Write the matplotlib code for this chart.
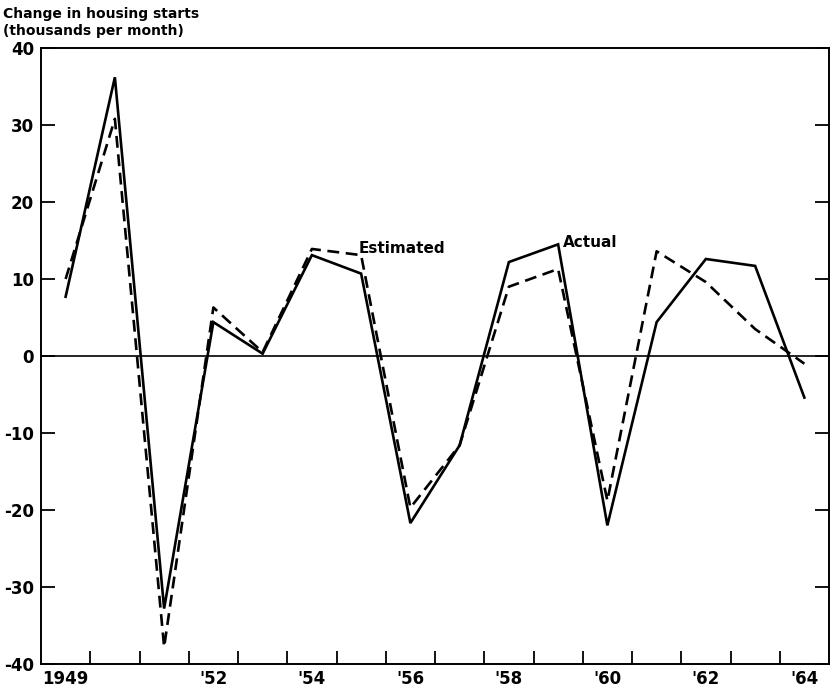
import numpy as np
import matplotlib
matplotlib.use("Agg")
from matplotlib import pyplot as plt
from matplotlib.ticker import FixedLocator

years = np.arange(1949, 1965)
actual = [7.7, 36.2, -32.8, 4.4, 0.3, 13.1, 10.7, -21.7, -11.6, 12.2, 14.5, -22.0, 4.4, 12.6, 11.7, -5.4]
estimated = [10.0, 30.8, -37.8, 6.3, 0.5, 13.9, 13.1, -19.7, -11.6, 9.0, 11.3, -18.8, 13.6, 9.6, 3.5, -1.0]

label_years = [1949, 1952, 1954, 1956, 1958, 1960, 1962, 1964]
label_text = ["1949", "'52", "'54", "'56", "'58", "'60", "'62", "'64"]
yticks = np.arange(-40, 41, 10)

plt.rcParams["font.family"] = ["DejaVu Sans"]

fig = plt.figure(figsize=(8.33, 6.88), dpi=100)
ax = fig.add_axes([41 / 833, 1 - 664 / 688, (829 - 41) / 833, (664 - 48) / 688])

ax.plot(years, actual, "k-", lw=1.9, solid_joinstyle="miter")
ax.plot(years, estimated, "k--", lw=1.9, dashes=(4.5, 2.5))
ax.axhline(0, color="k", lw=1.2)

ax.set_xlim(1948.5, 1964.5)
ax.set_ylim(-40, 40)

# year labels under the points, tick marks between years
ax.set_xticks(label_years)
ax.set_xticklabels(label_text, fontsize=12, fontweight="bold")
ax.xaxis.set_minor_locator(FixedLocator(np.arange(1949.5, 1964, 1.0)))
ax.tick_params(axis="x", which="major", length=0, pad=4)
ax.tick_params(axis="x", which="minor", direction="in", length=9.5, width=1.3)

ax.set_yticks(yticks)
ax.set_yticklabels([str(v) for v in yticks], fontsize=12, fontweight="bold")
ax.tick_params(axis="y", direction="in", length=10, width=1.3, right=True, pad=5)

for s in ax.spines.values():
    s.set_linewidth(1.4)

ax.text(1954.95, 14.0, "Estimated", fontsize=11, fontweight="bold", ha="left", va="center")
ax.text(1959.1, 14.8, "Actual", fontsize=11, fontweight="bold", ha="left", va="center")

fig.text(3 / 833, 1 - 14 / 688, "Change in housing starts", fontsize=10, fontweight="bold",
         ha="left", va="center")
fig.text(3 / 833, 1 - 31 / 688, "(thousands per month)", fontsize=10, fontweight="bold",
         ha="left", va="center")

fig.savefig("out.png", dpi=100)
